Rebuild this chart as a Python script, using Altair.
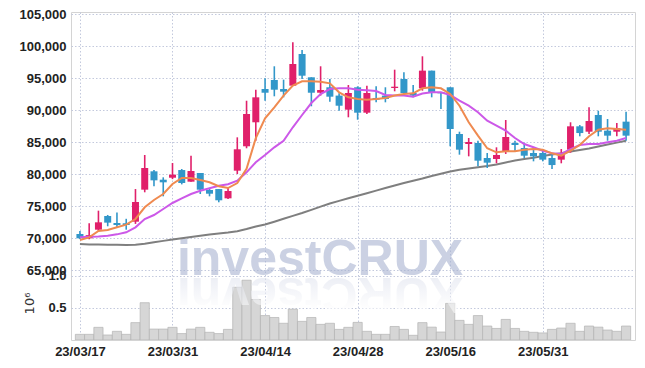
import altair as alt
import pandas as pd

# ---------------- data ----------------
idx = list(range(60))
opens = [70625, 69950, 71300, 73440, 72340, 72300, 72550, 77550, 80420, 79110,
         79420, 80620, 78800, 80160, 77500, 77650, 76200, 80520, 84330, 88080,
         93280, 94690, 93280, 93800, 98750, 95110, 92700, 93550, 92250, 90050,
         93550, 89580, 91880, 92250, 93440, 94840, 92660, 93390, 96150, 92800,
         93550, 86250, 84690, 84840, 82500, 82340, 83550, 84840, 84060, 83280,
         83280, 82500, 82240, 83800, 87450, 86610, 89220, 86770, 86610, 88180]
closes = [69950, 70450, 72450, 72400, 72030, 72030, 75625, 80940, 79010, 78700,
          79900, 78590, 80470, 77550, 76920, 75890, 77340, 83860, 89375, 91980,
          92700, 93170, 92860, 97190, 95360, 92700, 93125, 92080, 90670, 92660,
          89580, 92660, 91610, 91720, 93640, 92660, 92250, 96150, 92770, 92600,
          87030, 83800, 85000, 82080, 81770, 82970, 85780, 84530, 82860, 82760,
          82240, 81400, 83120, 87450, 86400, 88280, 86610, 85990, 87140, 85990]
highs = [71100, 72300, 74270, 73600, 74000, 73000, 77650, 82970, 80620, 79480,
         81720, 80780, 82860, 80160, 77860, 77650, 77810, 85730, 91450, 93170,
         94950, 96830, 94740, 100580, 99375, 95110, 96830, 94840, 92610, 93900,
         93700, 93800, 93700, 93550, 96300, 95890, 93900, 98390, 96150, 92800,
         93550, 86610, 85625, 85200, 83280, 84170, 88440, 85200, 84900, 84060,
         83900, 83120, 83900, 88080, 87650, 90420, 89890, 88590, 87970, 89730]
lows = [69850, 69800, 71100, 71830, 71670, 71300, 72200, 77140, 78080, 76510,
        79200, 78380, 78800, 76875, 76510, 75580, 76100, 80000, 84020, 85200,
        91450, 92140, 91980, 93800, 94840, 90580, 92250, 91300, 89890, 88860,
        88480, 89380, 91200, 91200, 92920, 92250, 91980, 93020, 91980, 90160,
        84330, 83020, 82760, 81200, 80940, 81670, 83130, 83490, 82500, 81980,
        81980, 80780, 81670, 83340, 85890, 86250, 85890, 85200, 85890, 85200]
ma5 = [69690, 70100, 71090, 71250, 71670, 72080, 72970, 74800, 75940, 76880,
       78440, 79375, 79375, 79060, 78700, 78080, 77810, 78590, 80800, 85600,
       88700, 90420, 92250, 93800, 94480, 94480, 94430, 94170, 92760, 91980,
       91720, 91610, 91720, 91880, 92250, 92500, 92600, 93390, 93550, 93390,
       92500, 90670, 88080, 86000, 84020, 83390, 83550, 83550, 83800, 83900,
       83800, 83230, 82860, 83640, 84530, 85890, 86920, 87140, 87030, 86920]
ma20 = [70100, 70200, 70230, 70360, 70570, 70890, 71670, 72970, 73590, 74530,
        75470, 76200, 76875, 77390, 77760, 78170, 78390, 78950, 80260, 81830,
        82970, 84170, 85200, 87300, 89220, 91090, 92500, 93280, 93390, 93390,
        93170, 93070, 92970, 92340, 92250, 92250, 92080, 92580, 92760, 92760,
        92340, 91450, 90670, 89640, 88330, 87550, 86770, 85625, 84690, 84170,
        83640, 83230, 83125, 83900, 84530, 84690, 84690, 84950, 85200, 85625]
ma_long = [69050, 69000, 68980, 68950, 68930, 68920, 68950, 69100, 69350, 69550,
           69750, 69950, 70150, 70350, 70550, 70700, 70850, 71050, 71400, 71800,
           72100, 72550, 73000, 73450, 73900, 74400, 74900, 75400, 75800, 76200,
           76600, 77000, 77400, 77800, 78200, 78600, 78950, 79300, 79700, 80050,
           80400, 80650, 80850, 81050, 81250, 81500, 81800, 82100, 82350, 82550,
           82800, 83050, 83250, 83500, 83750, 84000, 84300, 84600, 84900, 85200]
volume = [0.088, 0.088, 0.197, 0.078, 0.135, 0.088, 0.27, 0.58, 0.17, 0.17,
          0.197, 0.10, 0.17, 0.197, 0.12, 0.10, 0.165, 0.82, 0.93, 0.63,
          0.38, 0.35, 0.26, 0.48, 0.29, 0.35, 0.243, 0.26, 0.165, 0.197,
          0.274, 0.135, 0.088, 0.088, 0.21, 0.165, 0.073, 0.27, 0.20, 0.124,
          0.57, 0.305, 0.243, 0.38, 0.217, 0.18, 0.32, 0.18, 0.135, 0.12,
          0.11, 0.165, 0.186, 0.26, 0.135, 0.217, 0.20, 0.155, 0.135, 0.217]
tick_pos = [0, 10, 20, 30, 40, 50]
tick_labels = ["23/03/17", "23/03/31", "23/04/14", "23/04/28", "23/05/16", "23/05/31"]
price_ticks = [65000, 70000, 75000, 80000, 85000, 90000, 95000, 100000, 105000]
vol_ticks = [0.5, 1.0]
watermark = "investCRUX"

df = pd.DataFrame({"i": idx, "open": opens, "close": closes, "high": highs,
                   "low": lows, "ma5": ma5, "ma20": ma20, "malong": ma_long,
                   "vol": volume})
wm = pd.DataFrame({"t": [watermark], "r": [watermark[::-1]]})

RED = "#e0206a"
BLUE = "#3297c9"
GRID = "#c3c9dd"
FONT = "Liberation Sans"

label_expr = " : ".join(f"datum.value == {p} ? '{s}'" for p, s in zip(tick_pos, tick_labels)) + " : ''"

xaxis = alt.Axis(values=tick_pos, labelExpr=label_expr, grid=True, gridDash=[1.5, 2],
                 gridColor=GRID, ticks=False, domain=False, labelFontSize=13,
                 labelFontWeight="bold", labelPadding=5, labelColor="#222",
                 labelFont=FONT, orient="bottom", labelOverlap=False,
                 labelFlush=False, title=None)
xscale = alt.Scale(domain=[-0.4245, 59.4245], nice=False, zero=False)
xenc = alt.X("i:Q", scale=xscale, title=None, axis=xaxis)

pscale = alt.Scale(domain=[54062.5, 105312.5], nice=False, zero=False)
paxis = alt.Axis(values=price_ticks, format=",d", grid=True, gridDash=[1.5, 2],
                 gridColor=GRID, ticks=False, domain=False, labelFontSize=13,
                 labelFontWeight="bold", labelPadding=5, labelColor="#222",
                 labelFont=FONT, title=None, orient="left")
vscale = alt.Scale(domain=[0, 5.10], nice=False, zero=True)
vaxis = alt.Axis(values=vol_ticks, format=".1f", grid=True, gridDash=[1.5, 2],
                 gridColor=GRID, ticks=False, domain=False, labelFontSize=13,
                 labelFontWeight="bold", labelPadding=5, labelColor="#222",
                 labelFont=FONT, title="10\u2076", titleAngle=-90, titleX=-42,
                 titleY=291, titleAlign="center", titleBaseline="middle",
                 titleFontSize=13, titleFontWeight="normal", titleColor="#333",
                 titleFont="DejaVu Sans", orient="left")

vol = alt.Chart(df).mark_bar(size=9.2, color="#d6d6d6", stroke="#b3b3b3",
                             strokeWidth=0.7, clip=True).encode(
    x=xenc,
    y=alt.Y("vol:Q", scale=vscale, axis=vaxis),
)

wm_text = alt.Chart(wm).mark_text(font="Liberation Sans", fontWeight="bold",
                                  fontSize=50, color="#a9b4d2", opacity=0.6,
                                  align="center", baseline="alphabetic").encode(
    x=alt.value(249), y=alt.value(263), text="t:N")

grad = alt.LinearGradient(
    gradient="linear",
    stops=[alt.GradientStop(color="#d3d8e8", offset=0),
           alt.GradientStop(color="#ffffff", offset=0.75)],
    x1=0, x2=0, y1=1, y2=0)
wm_refl = alt.Chart(wm).mark_text(font="Liberation Sans", fontWeight="bold",
                                  fontSize=50, color=grad, opacity=0.55, angle=180,
                                  align="center", baseline="alphabetic").encode(
    x=alt.value(249), y=alt.value(266), text="r:N")

long_line = alt.Chart(df).mark_line(color="#7f7f7f", strokeWidth=2).encode(
    x=xenc, y=alt.Y("malong:Q", scale=pscale, axis=paxis))

color_cond = alt.condition("datum.close >= datum.open", alt.value(RED), alt.value(BLUE))

wick = alt.Chart(df).mark_rule(strokeWidth=1.6).encode(
    x=xenc, y=alt.Y("low:Q", scale=pscale, axis=None), y2="high:Q",
    color=color_cond)
body = alt.Chart(df).mark_bar(size=7).encode(
    x=xenc, y=alt.Y("open:Q", scale=pscale, axis=None), y2="close:Q",
    color=color_cond)

l20 = alt.Chart(df).mark_line(color="#cc58e8", strokeWidth=2).encode(
    x=xenc, y=alt.Y("ma20:Q", scale=pscale, axis=None))
l5 = alt.Chart(df).mark_line(color="#ef8a50", strokeWidth=2).encode(
    x=xenc, y=alt.Y("ma5:Q", scale=pscale, axis=None))

chart = alt.layer(vol, wm_refl, wm_text, long_line, wick, body, l20, l5).resolve_scale(
    y="independent"
).properties(
    width=564, height=328,
    autosize=alt.AutoSizeParams(type="none"),
    padding={"left": 63, "top": 4, "right": 2, "bottom": 20},
).configure_view(stroke="#d4d4d4", strokeWidth=1)

chart.save("out.html", embed_options={"renderer": "svg", "actions": False})
